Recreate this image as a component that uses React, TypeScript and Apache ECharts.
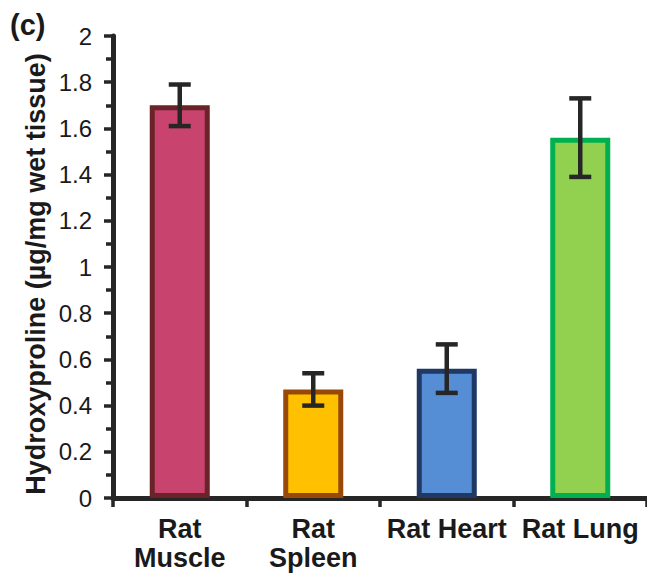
import React, { useEffect, useRef } from "react";
import * as echarts from "echarts";

const categories = ["Rat\nMuscle", "Rat\nSpleen", "Rat Heart", "Rat Lung"];
const means = [1.7, 0.47, 0.56, 1.56];
const errors = [0.09, 0.07, 0.105, 0.17];
const fillColors = ["#C9436F", "#FFC000", "#558ED5", "#92D050"];
const borderColors = ["#6A2328", "#984807", "#1F3864", "#00B050"];
const yMin = 0;
const yMax = 2;
const yInterval = 0.2;
const yTitle = "Hydroxyproline (µg/mg wet tissue)";
const panelLabel = "(c)";

const FONT = "'Liberation Sans', Arial, sans-serif";
const INK = "#1a1a1a";
const AXIS = "#262626";

export default function App() {
  const ref = useRef<HTMLDivElement>(null);
  useEffect(() => {
    if (!ref.current) return;
    const chart = echarts.init(ref.current, null, { renderer: "svg" });
    const errData = means.map((m, i) => [i, m - errors[i], m + errors[i]]);
    chart.setOption({
      animation: false,
      backgroundColor: "#ffffff",
      grid: { left: 113, right: -9, top: 36, bottom: 77, containLabel: false },
      xAxis: {
        type: "category",
        data: categories,
        axisLine: { show: true, lineStyle: { color: AXIS, width: 5 } },
        axisTick: { show: true, alignWithLabel: false, length: 9, lineStyle: { color: AXIS, width: 3.5 } },
        axisLabel: {
          color: INK,
          fontFamily: FONT,
          fontWeight: "bold",
          fontSize: 27,
          lineHeight: 29,
          margin: 16,
          interval: 0,
        },
        splitLine: { show: false },
      },
      yAxis: {
        type: "value",
        min: yMin,
        max: yMax,
        interval: yInterval,
        axisLine: { show: true, lineStyle: { color: AXIS, width: 5 } },
        axisTick: { show: true, inside: false, length: 9, lineStyle: { color: AXIS, width: 3.5 } },
        minorTick: { show: true, splitNumber: 2, length: 7, lineStyle: { color: AXIS, width: 3.5 } },
        axisLabel: {
          color: INK,
          fontFamily: FONT,
          fontSize: 24,
          margin: 21,
          formatter: (v: number) => String(Math.round(v * 10) / 10),
        },
        splitLine: { show: false },
      },
      graphic: [
        {
          type: "text",
          left: 10,
          top: 10,
          style: { text: panelLabel, font: `bold 29px ${FONT}`, fill: INK },
        },
        {
          type: "text",
          x: 36,
          y: 274,
          rotation: Math.PI / 2,
          style: {
            text: yTitle,
            font: `bold 27px ${FONT}`,
            fill: INK,
            textAlign: "center",
            textVerticalAlign: "middle",
          },
        },
      ],
      series: [
        {
          type: "bar",
          barWidth: 60,
          data: means.map((m, i) => ({
            value: m,
            itemStyle: { color: fillColors[i], borderColor: borderColors[i], borderWidth: 5 },
          })),
          z: 2,
        },
        {
          type: "custom",
          z: 5,
          data: errData,
          renderItem: (params: any, api: any) => {
            const x = api.value(0);
            const lo = api.value(1);
            const hi = api.value(2);
            const pHi = api.coord([x, hi]);
            const pLo = api.coord([x, lo]);
            const w = 11;
            const style = { stroke: AXIS, lineWidth: 4.5 };
            return {
              type: "group",
              children: [
                { type: "line", shape: { x1: pHi[0], y1: pHi[1], x2: pLo[0], y2: pLo[1] }, style },
                { type: "line", shape: { x1: pHi[0] - w, y1: pHi[1], x2: pHi[0] + w, y2: pHi[1] }, style },
                { type: "line", shape: { x1: pLo[0] - w, y1: pLo[1], x2: pLo[0] + w, y2: pLo[1] }, style },
              ],
            };
          },
        },
      ],
    });
    return () => chart.dispose();
  }, []);
  return (
    <div
      ref={ref}
      style={{ position: "fixed", left: 0, top: 0, width: 647, height: 575, background: "#fff" }}
    />
  );
}
